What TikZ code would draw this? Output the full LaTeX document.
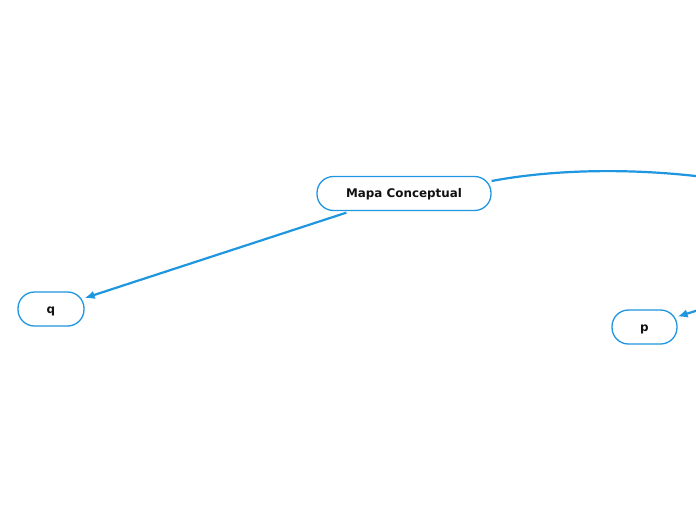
\documentclass[tikz,border=0pt]{standalone}
\usepackage{fontspec}
\setmainfont{DejaVu Sans}
\usetikzlibrary{arrows.meta}
\definecolor{mmblue}{RGB}{30,150,224}
\definecolor{mmtext}{RGB}{17,17,17}
\tikzset{
  topic/.style={draw=mmblue, line width=1.3pt, fill=white, rounded corners=16.5pt,
    minimum height=34pt, inner sep=0pt, text=mmtext, text height=10pt, text depth=1.2pt,
    font=\fontsize{11.9pt}{14pt}\selectfont\bfseries},
  link/.style={draw=mmblue, line width=2.2pt},
  arrowlink/.style={link, -{Latex[length=10pt,width=8.5pt]}},
}
\begin{document}
\begin{tikzpicture}[x=1pt,y=-1pt]
\clip (0,0) rectangle (696,520);
\fill[white] (0,0) rectangle (696,520);
\node[topic, minimum width=174pt] (m) at (404,193.5) {Mapa Conceptual};
\node[topic, minimum width=66pt] (q) at (51,309) {q};
\node[topic, minimum width=65pt] (p) at (644.5,327) {p};
\coordinate (mout) at ([yshift=12.5pt]m.east);
\coordinate (mdown) at ([xshift=30pt,yshift=-1.5pt]m.south west);
\coordinate (offright) at (760,186);
\coordinate (pin) at (740,297);
\draw[arrowlink] (mdown) -- (q);
\draw[link] (mout) .. controls (560,168) and (660,166) .. (offright);
\draw[arrowlink] (pin) -- (p);
\end{tikzpicture}
\end{document}
